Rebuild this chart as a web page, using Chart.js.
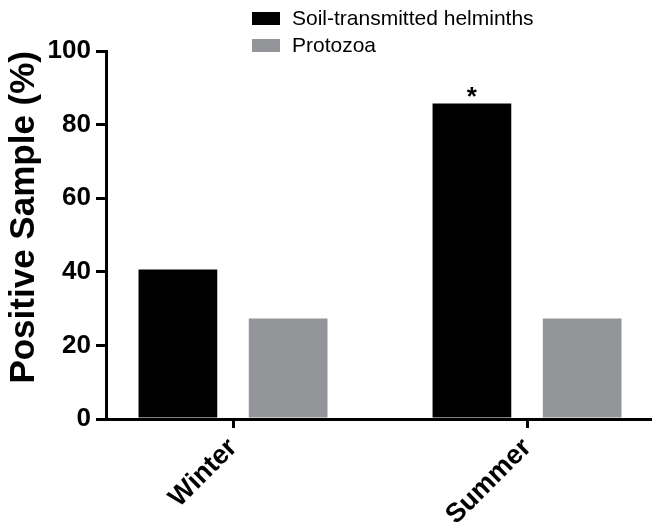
<!DOCTYPE html>
<html lang="en">

<head>
    <meta charset="UTF-8">
    <title>Positive Sample</title>
    <style>
        body { margin: 0; background: #fff; }
        .chart-box { width: 652px; height: 527px; position: relative; }
    </style>
</head>

<body>
    <div class="chart-box">
        <canvas id="barChart"></canvas>
    </div>

    <script src="https://cdn.jsdelivr.net/npm/chart.js@4.4.4/dist/chart.umd.min.js"></script>
    <script>
        // data
        const seasons = ['Winter', 'Summer'];
        const seasonPos = [1, 2];
        const helminths = [40.6, 85.7];
        const protozoa = [27.3, 27.3];
        const yTicks = [0, 20, 40, 60, 80, 100];
        const seriesNames = ['Soil-transmitted helminths', 'Protozoa'];
        const seriesColors = ['#000000', '#939598'];

        const FONT = 'Arial, "Liberation Sans", Helvetica, sans-serif';

        // legend drawn by hand, two rows stacked like the original
        const stackedLegend = {
            id: 'stackedLegend',
            afterDraw(chart) {
                const ctx = chart.ctx;
                ctx.save();
                ctx.font = '21px ' + FONT;
                ctx.textBaseline = 'middle';
                chart.data.datasets.forEach(function (ds, i) {
                    const y = 12 + i * 27;
                    ctx.fillStyle = ds.backgroundColor;
                    ctx.fillRect(252, y, 28, 13);
                    ctx.fillStyle = '#000';
                    ctx.fillText(ds.label, 292, y + 7);
                });
                ctx.restore();
            }
        };

        // significance star over the summer helminth bar
        const starMark = {
            id: 'starMark',
            afterDatasetsDraw(chart) {
                const bar = chart.getDatasetMeta(0).data[1];
                const ctx = chart.ctx;
                ctx.save();
                ctx.font = 'bold 26px ' + FONT;
                ctx.fillStyle = '#000';
                ctx.textAlign = 'center';
                ctx.textBaseline = 'alphabetic';
                ctx.fillText('*', bar.x, bar.y + 1);
                ctx.restore();
            }
        };

        const ctx = document.getElementById('barChart').getContext('2d');
        new Chart(ctx, {
            type: 'bar',
            data: {
                datasets: [{
                    label: seriesNames[0],
                    data: seasonPos.map((x, i) => ({ x: x, y: helminths[i] })),
                    backgroundColor: seriesColors[0],
                    categoryPercentage: 0.75,
                    barPercentage: 0.714
                }, {
                    label: seriesNames[1],
                    data: seasonPos.map((x, i) => ({ x: x, y: protozoa[i] })),
                    backgroundColor: seriesColors[1],
                    categoryPercentage: 0.75,
                    barPercentage: 0.714
                }]
            },
            options: {
                responsive: true,
                maintainAspectRatio: false,
                animation: false,
                layout: { padding: { top: 51, right: 0, left: 0, bottom: 0 } },
                plugins: {
                    legend: { display: false },
                    tooltip: { enabled: false }
                },
                scales: {
                    x: {
                        type: 'linear',
                        offset: false,
                        min: 0.568,
                        max: 2.425,
                        afterBuildTicks(scale) {
                            scale.ticks = seasonPos.map(v => ({ value: v }));
                        },
                        afterFit(scale) {
                            scale.height = 108;
                            scale.paddingRight = 0;
                            scale.paddingLeft = 0;
                        },
                        ticks: {
                            includeBounds: false,
                            autoSkip: false,
                            minRotation: 45,
                            maxRotation: 45,
                            padding: 4,
                            color: '#000',
                            font: { family: FONT, size: 27, weight: 'bold' },
                            callback: v => seasons[seasonPos.indexOf(v)] || ''
                        },
                        grid: { offset: false, drawOnChartArea: false, drawTicks: true, tickLength: 9, color: '#000', lineWidth: 3 },
                        border: { color: '#000', width: 3 }
                    },
                    y: {
                        min: 0,
                        max: 100,
                        afterBuildTicks(scale) {
                            scale.ticks = yTicks.map(v => ({ value: v }));
                        },
                        afterFit(scale) {
                            scale.width = 106;
                        },
                        ticks: {
                            padding: 5,
                            color: '#000',
                            font: { family: FONT, size: 26, weight: 'bold' }
                        },
                        grid: { drawOnChartArea: false, drawTicks: true, tickLength: 10, color: '#000', lineWidth: 3 },
                        border: { color: '#000', width: 3 },
                        title: {
                            display: true,
                            text: 'Positive Sample (%)',
                            align: 'end',
                            color: '#000',
                            padding: { top: 3, bottom: 0 },
                            font: { family: FONT, size: 35, weight: 'bold' }
                        }
                    }
                }
            },
            plugins: [stackedLegend, starMark]
        });
    </script>
</body>

</html>
